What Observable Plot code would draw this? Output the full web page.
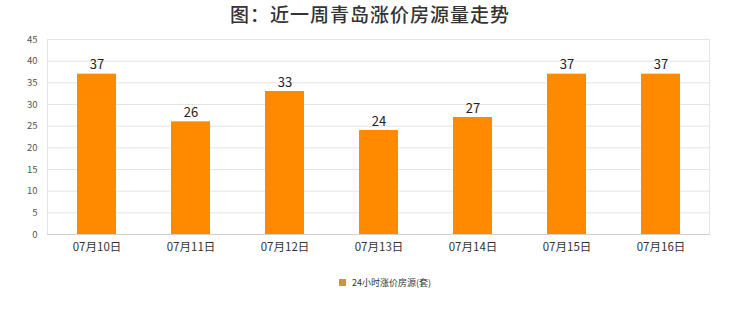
<!DOCTYPE html>
<html>
<head>
<meta charset="utf-8">
<script src="https://cdn.jsdelivr.net/npm/d3@7"></script>
<script src="https://cdn.jsdelivr.net/npm/@observablehq/plot@0.6"></script>
<style>
  body { margin: 0; background: #fff; font-family: "Noto Sans CJK SC", "Noto Sans", sans-serif; }
  #title { height: 28px; line-height: 28px; text-align: center; font-size: 19px; font-weight: 500; color: #333; letter-spacing: 1px; }
  #legend { display: flex; justify-content: center; align-items: center; margin-top: 12px; font-size: 9px; color: #333; margin-left: 30px; }
  #legend .sw { width: 7px; height: 7px; background: #c8963c; margin-right: 6px; }
  svg { display: block; }
</style>
</head>
<body>
<div id="title">图：近一周青岛涨价房源量走势</div>
<div id="chart"></div>
<div id="legend"><span class="sw"></span><span>24小时涨价房源(套)</span></div>
<script>
const dates = ["07月10日", "07月11日", "07月12日", "07月13日", "07月14日", "07月15日", "07月16日"];
const counts = [37, 26, 33, 24, 27, 37, 37];
const yTicks = [0, 5, 10, 15, 20, 25, 30, 35, 40, 45];

const data = dates.map((d, i) => ({date: d, count: counts[i]}));

const chart = Plot.plot({
  width: 740,
  height: 236,
  marginTop: 11,
  marginBottom: 30,
  marginLeft: 47,
  marginRight: 31,
  style: {fontFamily: "'Noto Sans CJK SC', 'Noto Sans', sans-serif", background: "#fff"},
  x: {domain: dates, paddingInner: 0.59, paddingOuter: 0.295, label: null},
  y: {domain: [0, 45], ticks: yTicks, label: null},
  marks: [
    Plot.ruleY(yTicks, {stroke: "#e4e4e4", strokeWidth: 1}),
    Plot.frame({stroke: "#e4e4e4"}),
    Plot.barY(data, {x: "date", y: "count", fill: "#ff8a00"}),
    Plot.ruleY([0], {stroke: "#d0d0d0"}),
    Plot.text(data, {x: "date", y: "count", text: d => String(d.count), dy: -9, fontSize: 13, fill: "#222"}),
    Plot.axisX({tickSize: 0, tickPadding: 8, fontSize: 11.5, fill: "#333"}),
    Plot.axisY({ticks: yTicks, tickSize: 0, tickPadding: 10, fontSize: 9.5, fill: "#555"})
  ]
});
document.getElementById("chart").appendChild(chart);
</script>
</body>
</html>
